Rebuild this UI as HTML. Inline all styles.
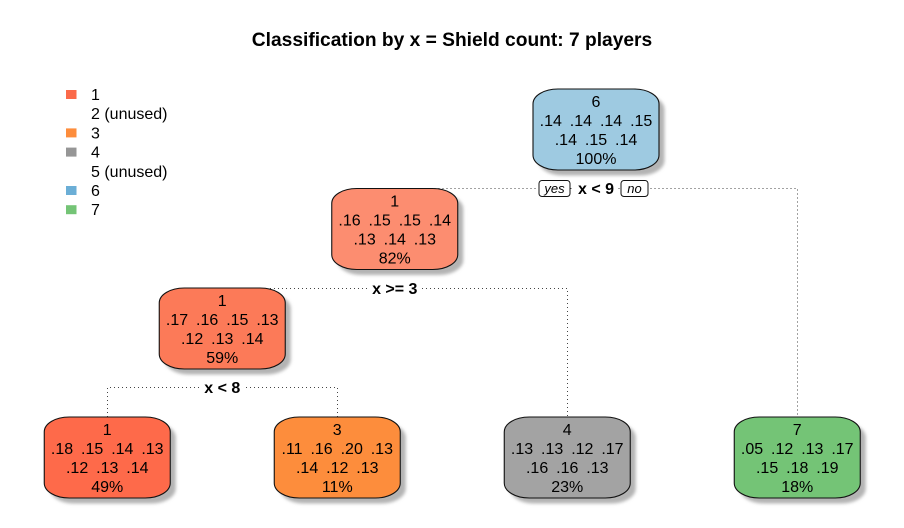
<!DOCTYPE html>
<html>
<head>
<meta charset="utf-8">
<style>
html,body{margin:0;padding:0;background:#fff;}
svg{display:block;}
text{font-family:"Liberation Sans",sans-serif;fill:#000;}
</style>
</head>
<body>
<svg id="tree" xmlns="http://www.w3.org/2000/svg" width="904" height="528" viewBox="0 0 904 528">
  <defs>
    <filter id="soft" x="-10%" y="-10%" width="120%" height="120%"><feGaussianBlur stdDeviation="1.6"/></filter>
  </defs>
  <rect x="0" y="0" width="904" height="528" fill="#ffffff"/>
  <text x="452" y="46" text-anchor="middle" font-size="19.2" font-weight="bold">Classification by x = Shield count: 7 players</text>
  <g id="legend"></g>
  <g id="edges"></g>
  <g id="nodes"></g>
  <g id="splits"></g>
</svg>
<script>
// Legend
var legendLabels = ['1', '2 (unused)', '3', '4', '5 (unused)', '6', '7'];
var legendColors = ['#fb6a4a', null, '#fd8d3c', '#969696', null, '#6baed6', '#74c476'];

// Tree nodes: preorder, parent index, depth from the root
var nodeParents = [-1, 0, 1, 2, 2, 1, 0];
var nodeClass = ['6', '1', '1', '1', '3', '4', '7'];
var nodeProbRow1 = [
  ['.14', '.14', '.14', '.15'],
  ['.16', '.15', '.15', '.14'],
  ['.17', '.16', '.15', '.13'],
  ['.18', '.15', '.14', '.13'],
  ['.11', '.16', '.20', '.13'],
  ['.13', '.13', '.12', '.17'],
  ['.05', '.12', '.13', '.17']
];
var nodeProbRow2 = [
  ['.14', '.15', '.14'],
  ['.13', '.14', '.13'],
  ['.12', '.13', '.14'],
  ['.12', '.13', '.14'],
  ['.14', '.12', '.13'],
  ['.16', '.16', '.13'],
  ['.15', '.18', '.19']
];
var nodePercent = [100, 82, 59, 49, 11, 23, 18];
var nodeFill = ['#9ecae1', '#fc8d70', '#fc7a58', '#fe6a4a', '#fd8d3c', '#a3a3a3', '#74c476'];

// Split rule shown for each internal node
var splitRules = {0: 'x < 9', 1: 'x >= 3', 2: 'x < 8'};

var NS = 'http://www.w3.org/2000/svg';
var BOX_W = 126, BOX_H = 81;

function make(tag, attrs, parent, content) {
  var el = document.createElementNS(NS, tag);
  for (var k in attrs) el.setAttribute(k, attrs[k]);
  if (content !== undefined) el.textContent = content;
  parent.appendChild(el);
  return el;
}
function xLeaf(i) { return 107.25 + 230 * i; }
function yLevel(depth, isLeaf) { return isLeaf ? 417 : 89 + 99.5 * depth; }

// Layout derived from the tree structure
var children = nodeParents.map(function () { return []; });
nodeParents.forEach(function (p, i) { if (p >= 0) children[p].push(i); });
var depths = nodeParents.map(function () { return 0; });
nodeParents.forEach(function (p, i) { if (p >= 0) depths[i] = depths[p] + 1; });
var centers = [];
var leafCount = 0;
(function place(i) {
  if (!children[i].length) { centers[i] = xLeaf(leafCount++); return; }
  children[i].forEach(place);
  centers[i] = (centers[children[i][0]] + centers[children[i][1]]) / 2;
})(0);
function topOf(i) { return yLevel(depths[i], children[i].length === 0); }
function splitY(i) {
  var first = children[i][0];
  return Math.floor(children[first].length ? topOf(first) : topOf(i) + 99) + 0.5;
}
function px(v) { return Math.floor(v) + 0.5; }

function boxPath(x, y, w, h) {
  var rx = 25, ry = 15, c = 0.56;
  return 'M' + (x + rx) + ',' + y +
    'H' + (x + w - rx) +
    'C' + (x + w - rx + rx * c) + ',' + y + ' ' + (x + w) + ',' + (y + ry - ry * c) + ' ' + (x + w) + ',' + (y + ry) +
    'V' + (y + h - ry) +
    'C' + (x + w) + ',' + (y + h - ry + ry * c) + ' ' + (x + w - rx + rx * c) + ',' + (y + h) + ' ' + (x + w - rx) + ',' + (y + h) +
    'H' + (x + rx) +
    'C' + (x + rx - rx * c) + ',' + (y + h) + ' ' + x + ',' + (y + h - ry + ry * c) + ' ' + x + ',' + (y + h - ry) +
    'V' + (y + ry) +
    'C' + x + ',' + (y + ry - ry * c) + ' ' + (x + rx - rx * c) + ',' + y + ' ' + (x + rx) + ',' + y + 'Z';
}

// Legend
var legendG = document.getElementById('legend');
legendLabels.forEach(function (label, i) {
  var y = 94.5 + i * 19.2;
  if (legendColors[i]) {
    var sw = make('rect', {x: 66, y: y - 4.5, width: 10.5, height: 9, fill: legendColors[i]}, legendG);
    
    
  }
  var t = make('text', {x: 91, y: y + 5.5, 'font-size': 16}, legendG, label);
  
  
});

// Edges
var edgesG = document.getElementById('edges');
children.forEach(function (kids, i) {
  if (!kids.length) return;
  var yS = splitY(i);
  var d = 'M' + px(centers[kids[0]]) + ',' + topOf(kids[0]) + 'V' + yS + 'H' + px(centers[kids[1]]) + 'V' + topOf(kids[1]);
  var e = make('path', {d: d, fill: 'none', stroke: '#444', 'stroke-width': 1, 'stroke-dasharray': '1 3', 'shape-rendering': 'crispEdges'}, edgesG);
  
  
});

// Nodes
var nodesG = document.getElementById('nodes');
nodeClass.forEach(function (cls, i) {
  var x = centers[i] - BOX_W / 2, y = topOf(i);
  var g = make('g', {}, nodesG);
  
  
  var sh = make('path', {d: boxPath(x + 5.5, y + 5.5, BOX_W, BOX_H), fill: '#b4b4b4', filter: 'url(#soft)'}, g);
  
  
  var box = make('path', {d: boxPath(x, y, BOX_W, BOX_H), fill: nodeFill[i], stroke: '#111', 'stroke-width': 1.1}, g);
  
  
  var lines = [cls, nodeProbRow1[i].join('\u00a0\u00a0'), nodeProbRow2[i].join('\u00a0\u00a0'), nodePercent[i] + '%'];
  lines.forEach(function (line, j) {
    var t = make('text', {x: centers[i], y: y + 18 + j * 19, 'text-anchor': 'middle', 'font-size': 16, 'word-spacing': '-0.5'}, g, line);
    
    
  });
});

// Split labels
var splitsG = document.getElementById('splits');
Object.keys(splitRules).forEach(function (key) {
  var i = +key;
  var yS = splitY(i);
  var rule = splitRules[key];
  var w = rule.length * 7.6 + 6;
  var bg = make('rect', {x: centers[i] - w / 2, y: yS - 8, width: w, height: 16, fill: '#fff'}, splitsG);
  
  
  var t = make('text', {x: centers[i], y: yS + 5.5, 'text-anchor': 'middle', 'font-size': 16, 'font-weight': 'bold'}, splitsG, rule);
  
  
  if (i === 0) {
    [['yes', centers[i] - 41.5, 31], ['no', centers[i] + 38.5, 27]].forEach(function (b) {
      var r = make('rect', {x: b[1] - b[2] / 2, y: yS - 8, width: b[2], height: 16, rx: 3, fill: '#fff', stroke: '#111', 'stroke-width': 1}, splitsG);
      
      
      var bt = make('text', {x: b[1], y: yS + 4.5, 'text-anchor': 'middle', 'font-size': 13, 'font-style': 'italic'}, splitsG, b[0]);
      
      
    });
  }
});
</script>
</body>
</html>
